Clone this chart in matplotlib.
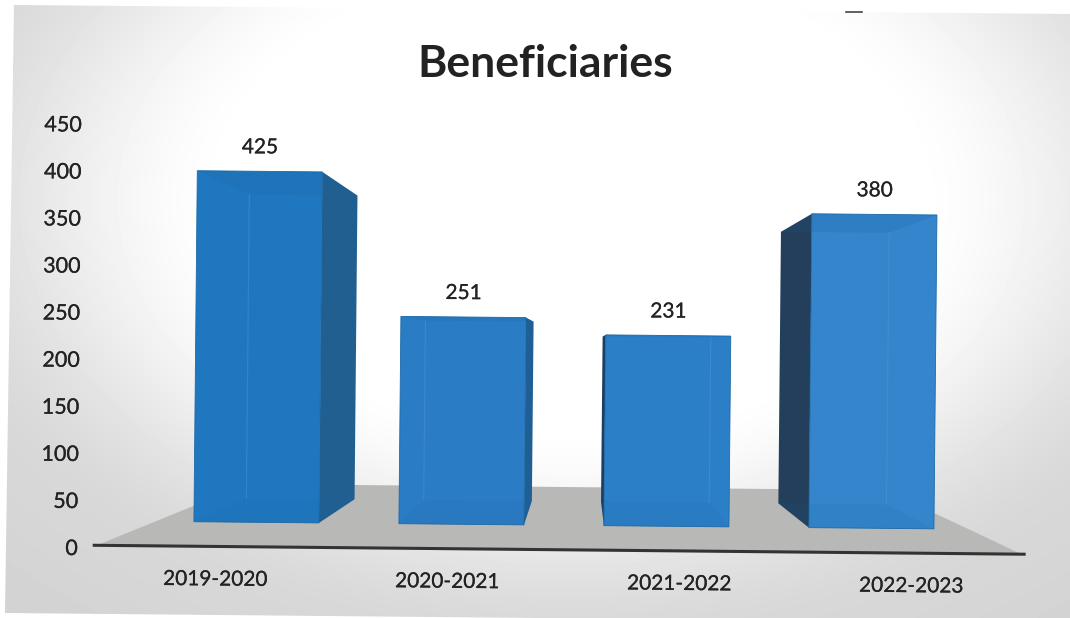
import numpy as np
import matplotlib
matplotlib.use("Agg")
import matplotlib.pyplot as plt
import matplotlib.patheffects as pe
from matplotlib.patches import Polygon
from matplotlib.transforms import Affine2D

# Data
years = ["2019-2020", "2020-2021", "2021-2022", "2022-2023"]
beneficiaries = [425, 251, 231, 380]
axis_ticks = [0, 50, 100, 150, 200, 250, 300, 350, 400, 450]

# Per-bar face colours
front_colors = ["#1f78bf", "#2a7cc4", "#2b7fc7", "#3485cb"]
side_colors = ["#215f90", "#1f5f96", "#1c3f63", "#233f5b"]

W, H = 1070, 618
plt.rcParams["font.family"] = ["Lato", "DejaVu Sans"]
text_color = "#232323"
tilt = -0.55
bolder = [pe.withStroke(linewidth=0.15, foreground=text_color)]

fig = plt.figure(figsize=(W / 100, H / 100), dpi=100)
fig.patch.set_facecolor("white")

# Whole page sits slightly rotated
page_tilt = Affine2D().rotate_deg_around(W / 2, H / 2, tilt)

# Background fading to grey at the edges, with an uneven sheet outline
ax_bg = fig.add_axes([0, 0, 1, 1])
ax_bg.axis("off")
gx, gy = np.meshgrid(np.arange(0, W, 4), np.arange(0, H + 4, 4))
r = np.sqrt(((gx - 570) / 600) ** 2 + ((gy - 200) / 400) ** 2)
s = np.clip((r - 0.55) / 0.6, 0, 1)
shade = 255 - 40 * s * s * (3 - 2 * s) - 18 * np.clip(r - 1.15, 0, None)
bg = ax_bg.imshow(shade, cmap="gray", vmin=0, vmax=255, extent=[0, W, H, 0],
                  aspect="auto", interpolation="bilinear")
ax_bg.set_xlim(0, W)
ax_bg.set_ylim(H, 0)
sheet = Polygon([(14, 5), (W + 5, 14), (W + 5, H + 5), (5, 613)], closed=True, transform=ax_bg.transData)
bg.set_clip_path(sheet)
ax_bg.plot([846, 862], [12, 12], color="#444444", lw=1.2)

# Main axes: x in category units, y in value units
ax = fig.add_axes([0, 0, 1, 1])
ax.patch.set_alpha(0)
ax.axis("off")
step_px = 205
value_px = 0.826
x0_px, y0_px = 258.5, 525
ax.set_xlim(-x0_px / step_px, (W - x0_px) / step_px)
ax.set_ylim((y0_px - H) / value_px, y0_px / value_px)
tr = ax.transData + page_tilt

# Vanishing point of the box sides
vp_x = (583 - x0_px) / step_px
vp_y = (y0_px - 347) / value_px
depth = 0.135
floor_depth = 0.31


def project(x, y, k):
    return x + k * (vp_x - x), y + k * (vp_y - y)


# Floor and baseline
floor_left = (95 - x0_px) / step_px
floor_right = (1028 - x0_px) / step_px
floor_y = (y0_px - 549.5) / value_px
back_l = project(floor_left + 0.02, floor_y, floor_depth)
back_r = project(floor_right - 0.02, floor_y, floor_depth)
ax.add_patch(Polygon([(floor_left + 0.02, floor_y), back_l, back_r, (floor_right - 0.02, floor_y)],
                     closed=True, fc="#b8b8b6", ec="none", transform=tr))
ax.plot([floor_left, floor_right], [floor_y, floor_y], color="#333333", lw=2.2,
        solid_capstyle="butt", transform=tr)

# Bars
half = 0.305
for i, v in enumerate(beneficiaries):
    l, rt = i - half, i + half
    fl, fr = (l, 0), (rt, 0)
    tl, tr_pt = (l, v), (rt, v)
    bl_b, br_b = project(l, 0, depth), project(rt, 0, depth)
    bl_t, br_t = project(l, v, depth), project(rt, v, depth)

    # visible side face is the one away from the vanishing point
    if i < vp_x:
        side = [tr_pt, br_t, br_b, fr]
    else:
        side = [tl, bl_t, bl_b, fl]
    ax.add_patch(Polygon(side, closed=True, fc=side_colors[i], ec="none", transform=tr))
    ax.add_patch(Polygon([fl, tl, tr_pt, fr], closed=True, fc=front_colors[i],
                         ec="#1c6aa8", lw=0.6, transform=tr))

    # top and bottom of the box seen through the front face
    ax.add_patch(Polygon([tl, bl_t, br_t, tr_pt], closed=True, fc="#1a5f9e", alpha=0.16,
                         ec="none", transform=tr))
    ax.add_patch(Polygon([fl, bl_b, br_b, fr], closed=True, fc="#1a5f9e", alpha=0.10,
                         ec="none", transform=tr))
    inner_x = bl_b[0] if i < vp_x else br_b[0]
    ax.plot([inner_x, inner_x], [bl_b[1], bl_t[1]], color="#5c9fd8", lw=0.8, alpha=0.35, transform=tr)

    # value label
    ax.text(i, v + 29, str(v), ha="center", va="center", fontsize=15, color=text_color,
            rotation=tilt * 0.5, rotation_mode="anchor", transform=tr, path_effects=bolder)

# Category labels are spread wider than the bars
for i, year in enumerate(years):
    label_x = 1.5 + (i - 1.5) * 232 / step_px
    ax.text(label_x, (y0_px - 582.5) / value_px, year, ha="center", va="center", fontsize=15,
            color=text_color, rotation=tilt, rotation_mode="anchor", transform=tr, path_effects=bolder)

# Value axis labels on their own scale
ax_val = fig.add_axes([0, (H - 553.5) / H, 1, (553.5 - 130) / H])
ax_val.patch.set_alpha(0)
ax_val.axis("off")
ax_val.set_xlim(0, W)
ax_val.set_ylim(0, 450)
val_tr = ax_val.transData + page_tilt
for t in axis_ticks:
    ax_val.text(80, t, str(t), ha="right", va="center", fontsize=15.5, color=text_color,
                rotation=tilt, rotation_mode="anchor", transform=val_tr, path_effects=bolder)

# Title
ax.text((545 - x0_px) / step_px, (y0_px - 64) / value_px, "Beneficiaries", ha="center", va="center",
        fontsize=32, fontweight="bold", color="#222222", transform=ax.transData)

fig.savefig("out.png", dpi=100)
